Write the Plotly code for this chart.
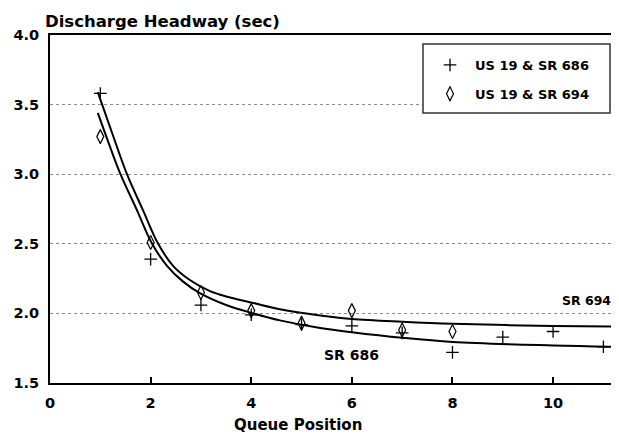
import plotly.graph_objects as go

# Observed points
sr686_x = [1, 2, 3, 4, 5, 6, 7, 8, 9, 10, 11]
sr686_y = [3.58, 2.39, 2.06, 1.99, 1.92, 1.91, 1.86, 1.72, 1.83, 1.87, 1.76]
sr694_x = [1, 2, 3, 4, 5, 6, 7, 8]
sr694_y = [3.27, 2.51, 2.15, 2.02, 1.93, 2.02, 1.88, 1.87]

# Fitted curves
curve694_x = [0.95, 1.25, 1.53, 1.85, 2.15, 2.45, 2.78, 3.18, 3.52, 4.04, 4.57, 5.37, 6.0, 7.0, 8.0, 10.0, 11.31]
curve694_y = [3.59, 3.28, 3.00, 2.74, 2.50, 2.34, 2.24, 2.16, 2.12, 2.075, 2.03, 1.985, 1.96, 1.94, 1.925, 1.91, 1.905]
curve686_x = [0.95, 1.17, 1.39, 1.73, 2.03, 2.33, 2.64, 2.98, 3.5, 4.04, 4.57, 5.37, 6.0, 7.0, 8.0, 10.0, 11.31]
curve686_y = [3.44, 3.22, 3.01, 2.74, 2.50, 2.34, 2.23, 2.145, 2.06, 2.0, 1.95, 1.895, 1.865, 1.825, 1.795, 1.77, 1.76]

x_ticks = [0, 2, 4, 6, 8, 10]
y_ticks = [1.5, 2.0, 2.5, 3.0, 3.5, 4.0]

FONT = "DejaVu Sans"
W, H = 611, 429  # page body has an 8px margin
PW, PH = 569, 348  # plot area size in px

fig = go.Figure()
fig.add_trace(go.Scatter(x=curve694_x, y=curve694_y, mode="lines", line=dict(color="black", width=2, shape="spline"), showlegend=False, hoverinfo="skip"))
fig.add_trace(go.Scatter(x=curve686_x, y=curve686_y, mode="lines", line=dict(color="black", width=2, shape="spline"), showlegend=False, hoverinfo="skip"))
fig.add_trace(go.Scatter(x=sr686_x, y=sr686_y, mode="markers", name="<b>US 19 & SR 686</b>", legendgroup="a",
                         marker=dict(symbol="cross-thin", size=9, line=dict(color="black", width=1.3), color="black")))
fig.add_trace(go.Scatter(x=sr694_x, y=sr694_y, mode="markers", name="<b>US 19 & SR 694</b>", legendgroup="b",
                         marker=dict(symbol="diamond-tall-open", size=10, line=dict(color="black", width=1.2), color="black")))

# legend frame (viewport px 423..610 x 44..113, plot origin at 50,383)
fig.add_shape(type="rect", xref="paper", yref="paper", layer="above",
              x0=(423-50)/PW, x1=(610-50)/PW, y0=(383-113)/PH, y1=(383-44)/PH,
              line=dict(color="#333", width=1.5), fillcolor="white")

fig.add_annotation(x=10.14, y=2.095, text="<b>SR 694</b>", showarrow=False, xanchor="left", yanchor="middle",
                   font=dict(family=FONT, size=12.5, color="black"))
fig.add_annotation(x=6.0, y=1.70, text="<b>SR 686</b>", showarrow=False, xanchor="center", yanchor="middle",
                   font=dict(family=FONT, size=14, color="black"))
fig.add_annotation(x=0.436, y=-0.12, xref="paper", yref="paper", text="<b>Queue Position</b>", showarrow=False,
                   xanchor="center", yanchor="middle", font=dict(family=FONT, size=15, color="black"))

fig.update_layout(
    width=W, height=H,
    margin=dict(l=42, r=0, t=27, b=54),
    paper_bgcolor="white", plot_bgcolor="white",
    title=dict(text="<b>Discharge Headway (sec)</b>", x=37/W, xref="container", xanchor="left",
               y=1-13/H, yref="container", yanchor="middle",
               font=dict(family=FONT, size=16.5, color="black")),
    legend=dict(x=(425-50)/PW, y=(383-50)/PH, xanchor="left", yanchor="top",
                borderwidth=0, bgcolor="rgba(0,0,0,0)",
                font=dict(family=FONT, size=13, color="black"),
                traceorder="grouped", tracegroupgap=9, itemwidth=40),
    xaxis=dict(range=[0, 11.31], tickvals=x_ticks, ticktext=[f"<b>{v}</b>" for v in x_ticks],
               showgrid=False, zeroline=False, showline=True, linecolor="black", linewidth=2, mirror=True,
               ticks="inside", ticklen=6, tickwidth=1.5, tickcolor="black", ticklabelstandoff=6,
               tickfont=dict(family=FONT, size=14.5, color="black")),
    yaxis=dict(range=[1.5, 4.0], tickvals=y_ticks, ticktext=[f"<b>{v:.1f}</b>" for v in y_ticks],
               showgrid=True, gridcolor="#8a8a8a", griddash="dot", gridwidth=1,
               zeroline=False, showline=True, linecolor="black", linewidth=2,
               ticks="", ticklabelstandoff=6,
               tickfont=dict(family=FONT, size=14.5, color="black")),
)

fig.write_html("out.html")
